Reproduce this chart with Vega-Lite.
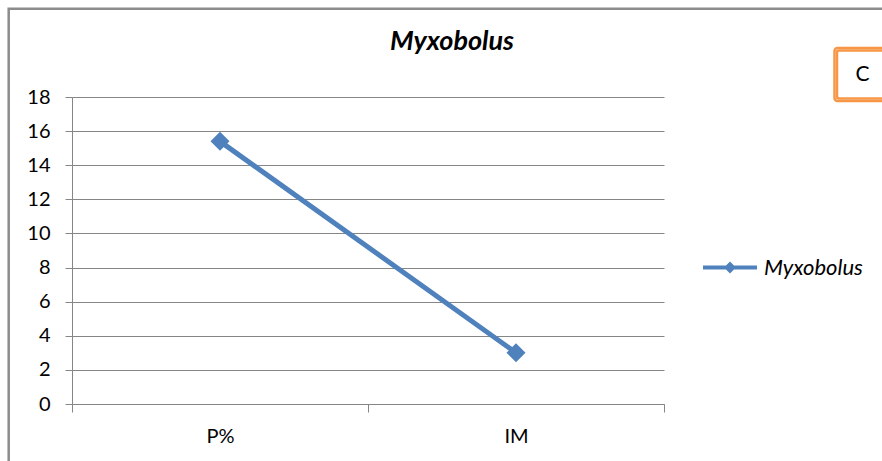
{
  "$schema": "https://vega.github.io/schema/vega-lite/v6.json",
  "width": 592,
  "height": 307,
  "autosize": {"type": "none"},
  "padding": {"left": 72, "top": 97, "right": 218, "bottom": 57},
  "background": "white",
  "title": {
    "text": "Myxobolus",
    "font": "Lato",
    "fontSize": 27,
    "fontWeight": "bold",
    "fontStyle": "italic",
    "color": "#000000",
    "anchor": "middle",
    "frame": "group",
    "dx": 84,
    "dy": 70,
    "baseline": "alphabetic",
    "offset": 0
  },
  "config": {"view": {"stroke": null}, "font": "Lato", "legend": {"strokeWidth": 2.5}},
  "layer": [
    {
      "data": {
        "values": [
          {"metric": "P%", "value": 15.4, "series": "Myxobolus"},
          {"metric": "IM", "value": 3.0, "series": "Myxobolus"}
        ]
      },
      "mark": {
        "type": "line",
        "strokeWidth": 5,
        "point": {"shape": "diamond", "size": 361, "filled": true, "opacity": 1}
      },
      "encoding": {
        "x": {
          "field": "metric",
          "type": "nominal",
          "sort": ["P%", "IM"],
          "scale": {"type": "band", "paddingInner": 0, "paddingOuter": 0},
          "axis": {
            "title": null,
            "labelAngle": 0,
            "tickBand": "extent",
            "grid": false,
            "domainColor": "#868686",
            "tickColor": "#868686",
            "tickSize": 8,
            "labelPadding": 14,
            "labelFont": "Lato",
            "labelFontSize": 20,
            "labelColor": "#000000"
          }
        },
        "y": {
          "field": "value",
          "type": "quantitative",
          "scale": {"domain": [0, 18], "nice": false},
          "axis": {
            "title": null,
            "values": [0, 2, 4, 6, 8, 10, 12, 14, 16, 18],
            "grid": true,
            "gridColor": "#868686",
            "domainColor": "#868686",
            "tickColor": "#868686",
            "tickSize": 7,
            "labelPadding": 15,
            "labelFont": "Lato",
            "labelFontSize": 20,
            "labelColor": "#000000"
          }
        },
        "color": {
          "field": "series",
          "type": "nominal",
          "scale": {"range": ["#4F81BD"]},
          "legend": {
            "title": null,
            "orient": "none",
            "legendX": 631,
            "legendY": 143.5,
            "symbolType": "M-1,-0.074L1,-0.074L1,0.074L-1,0.074Z M-0.22,0L0,-0.22L0.22,0L0,0.22Z",
            "symbolSize": 2916,
            "labelFont": "Lato",
            "labelFontSize": 22,
            "labelFontStyle": "italic",
            "labelColor": "#000000",
            "labelOffset": 7,
            "padding": 0,
            "encode": {
              "symbols": {
                "update": {
                  "fill": {"value": "#4F81BD"},
                  "stroke": {"value": "#4F81BD"},
                  "strokeWidth": {"value": 0},
                  "opacity": {"value": 1}
                }
              }
            }
          }
        }
      }
    },
    {
      "data": {"values": [{"panel": "C", "box": "C"}]},
      "mark": {"type": "point", "opacity": 0},
      "encoding": {
        "shape": {
          "field": "panel",
          "type": "nominal",
          "legend": {
            "title": null,
            "orient": "none",
            "legendX": 765,
            "legendY": -46.5,
            "symbolSize": 0,
            "symbolOpacity": 0,
            "labelFont": "Lato",
            "labelFontSize": 21,
            "labelColor": "#000000",
            "labelOffset": -16,
            "padding": 13.5,
            "strokeColor": "#F79646",
            "cornerRadius": 2
          }
        },
        "strokeDash": {
          "field": "box",
          "type": "nominal",
          "legend": {
            "title": null,
            "orient": "none",
            "legendX": 762.5,
            "legendY": -49,
            "symbolSize": 0,
            "symbolOpacity": 0,
            "labelFont": "Lato",
            "labelFontSize": 21,
            "labelOpacity": 0,
            "labelOffset": -16,
            "padding": 16,
            "strokeColor": "#F79646",
            "cornerRadius": 3
          }
        }
      }
    },
    {
      "data": {"values": [{"frame": "chart"}]},
      "mark": {"type": "point", "opacity": 0},
      "encoding": {
        "size": {
          "field": "frame",
          "type": "ordinal",
          "legend": {
            "title": null,
            "orient": "none",
            "legendX": -63.3,
            "legendY": -88.3,
            "padding": 440,
            "symbolOpacity": 0,
            "labelOpacity": 0,
            "strokeColor": "#8C8C8C"
          }
        }
      }
    }
  ]
}
